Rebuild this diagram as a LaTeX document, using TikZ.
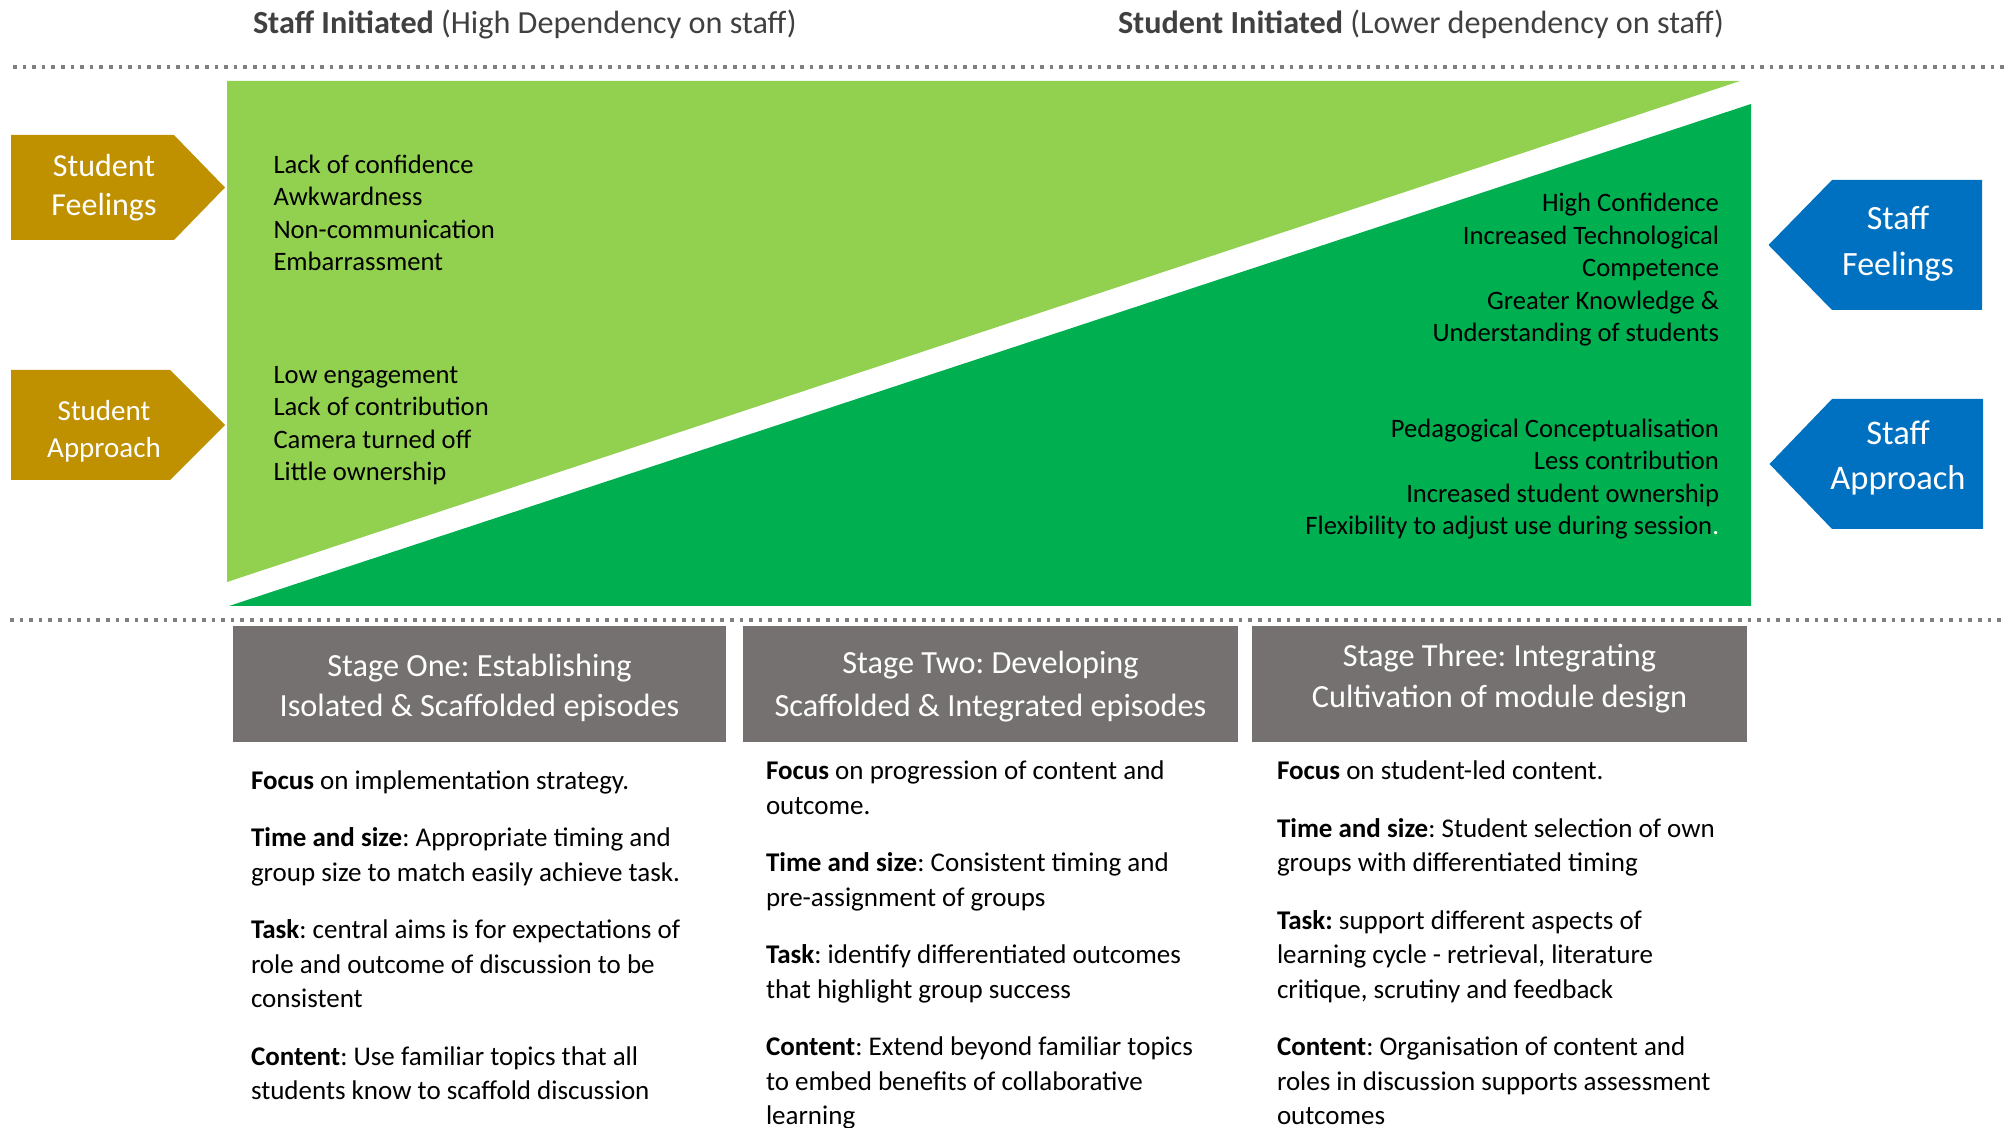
\documentclass[tikz,border=0pt]{standalone}
\usepackage{fontspec}
\setmainfont{Carlito}

\definecolor{leafgreen}{HTML}{92D050}
\definecolor{deepgreen}{HTML}{00B050}
\definecolor{ochre}{HTML}{BF9000}
\definecolor{staffblue}{HTML}{0070C0}
\definecolor{stagegray}{HTML}{767171}
\definecolor{headgray}{HTML}{404040}
\definecolor{rulegray}{HTML}{7F7F7F}

\newcommand\fsz[2]{\fontsize{#1}{#2}\selectfont}
\newcommand\pgap{\\[11.4pt]}
\frenchspacing

\tikzset{
  rule/.style={rulegray, line width=1.6pt, dash pattern=on 1.8pt off 3pt},
  txt/.style={inner sep=0pt, outer sep=0pt},
  heading/.style={txt, anchor=base west, text=headgray, font=\fsz{16.1pt}{19pt}},
  tagtext/.style={txt, anchor=north, align=center, text=white},
  leftlist/.style={txt, anchor=north west, align=left, font=\fsz{13.3pt}{16.15pt}},
  rightlist/.style={txt, anchor=north east, align=right, font=\fsz{13.3pt}{16.25pt}},
  stagebox/.style={fill=stagegray},
  stagetitle/.style={txt, anchor=north, align=center, text=white},
  stagebody/.style={txt, anchor=north west, align=left, font=\fsz{13.5pt}{17.3pt}},
}

\begin{document}
\begin{tikzpicture}[x=0.5pt,y=-0.5pt]
\useasboundingbox (0,0) rectangle (2004,1128);

% column headings
\node[heading] (hstaff) at (253,33.5) {\textbf{Staff Initiated} (High Dependency on staff)};
\node[heading] (hstudent) at (1118,33.5) {\textbf{Student Initiated} (Lower dependency on staff)};

% dotted rules
\coordinate (r1a) at (13,67);  \coordinate (r1b) at (2004,67);
\coordinate (r2a) at (10,620); \coordinate (r2b) at (2004,620);
\draw[rule] (r1a) -- (r1b);
\draw[rule] (r2a) -- (r2b);

% the two wedges
\fill[leafgreen] (227,81) -- (1740,81) -- (227,582) -- cycle;
\fill[deepgreen] (229,606) -- (1751,104) -- (1751,606) -- cycle;

% student pentagons
\fill[ochre] (11,135) -- (174,135) -- (225,187.5) -- (174,240) -- (11,240) -- cycle;
\fill[ochre] (11,370) -- (170,370) -- (225,425) -- (170,480) -- (11,480) -- cycle;
\node[tagtext, font=\fsz{16pt}{19.6pt}] (sfeel) at (104,148.8) {\strut Student\\Feelings};
\node[tagtext, font=\fsz{14.5pt}{18.3pt}] (sappr) at (104,394.8) {\strut Student\\Approach};

% staff pentagons
\fill[staffblue] (1982,180) -- (1832,180) -- (1768.5,245) -- (1832,310) -- (1982,310) -- cycle;
\fill[staffblue] (1983,399) -- (1832,399) -- (1769.5,464) -- (1832,529) -- (1983,529) -- cycle;
\node[tagtext, font=\fsz{17pt}{23pt}] (tfeel) at (1898,197.6) {\strut Staff\\Feelings};
\node[tagtext, font=\fsz{17.25pt}{22.6pt}] (tappr) at (1898,413) {\strut Staff\\Approach};

% student side lists
\node[leftlist] (slist1) at (273.5,151) {\strut Lack of confidence\\Awkwardness\\Non-communication\\Embarrassment};
\node[leftlist] (slist2) at (273.5,361) {\strut Low engagement\\Lack of contribution\\Camera turned off\\Little ownership};

% staff side lists
\node[rightlist] (tlist1) at (1719,189) {\strut High Confidence\\Increased Technological\\Competence\\Greater Knowledge \&\\Understanding of students};
\node[rightlist] (tlist2) at (1719,414.5) {\strut Pedagogical Conceptualisation\\Less contribution\\Increased student ownership\\Flexibility to adjust use during session\textcolor{white}{.}};

% stage boxes
\fill[stagebox] (233,626) rectangle (726,742);
\fill[stagebox] (743,626) rectangle (1238,742);
\fill[stagebox] (1252,626) rectangle (1747,742);
\node[stagetitle, font=\fsz{16.15pt}{20pt}] (st1) at (479.5,648.5) {\strut Stage One: Establishing\\Isolated \& Scaffolded episodes};
\node[stagetitle, font=\fsz{16.15pt}{21.5pt}] (st2) at (990.5,643.5) {\strut Stage Two: Developing\\Scaffolded \& Integrated episodes};
\node[stagetitle, font=\fsz{16.15pt}{20.5pt}] (st3) at (1499.5,637.5) {\strut Stage Three: Integrating\\Cultivation of module design};

% stage descriptions
\node[stagebody] (sb1) at (251,765) {\strut\textbf{Focus} on implementation strategy.\pgap
\textbf{Time and size}: Appropriate timing and\\group size to match easily achieve task.\pgap
\textbf{Task}: central aims is for expectations of\\role and outcome of discussion to be\\consistent\pgap
\textbf{Content}: Use familiar topics that all\\students know to scaffold discussion};

\node[stagebody] (sb2) at (766,755.5) {\strut\textbf{Focus} on progression of content and\\outcome.\pgap
\textbf{Time and size}: Consistent timing and\\pre-assignment of groups\pgap
\textbf{Task}: identify differentiated outcomes\\that highlight group success\pgap
\textbf{Content}: Extend beyond familiar topics\\to embed benefits of collaborative\\learning};

\node[stagebody] (sb3) at (1277,755.5) {\strut\textbf{Focus} on student-led content.\pgap
\textbf{Time and size}: Student selection of own\\groups with differentiated timing\pgap
\textbf{Task:} support different aspects of\\learning cycle - retrieval, literature\\critique, scrutiny and feedback\pgap
\textbf{Content}: Organisation of content and\\roles in discussion supports assessment\\outcomes};
\end{tikzpicture}
\end{document}
